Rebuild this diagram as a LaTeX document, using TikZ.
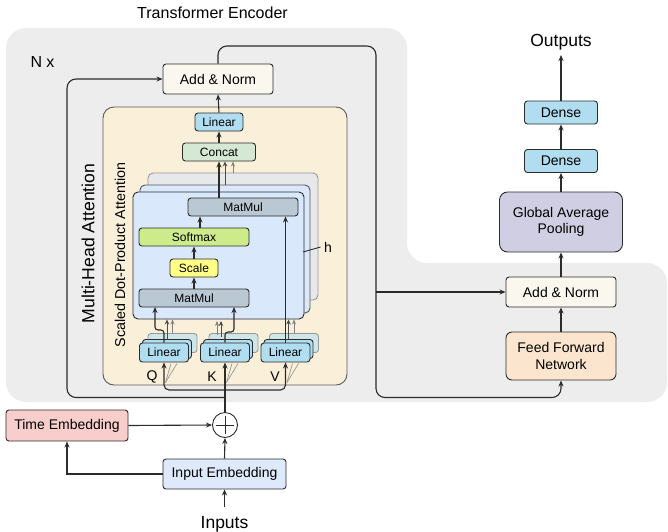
\documentclass[tikz,border=0pt]{standalone}
\usepackage{fontspec}
\setmainfont{Liberation Sans}
\usetikzlibrary{arrows.meta,calc,shapes.geometric}
\definecolor{linec}{HTML}{2B2B2B}
\definecolor{bggray}{HTML}{EDEDED}
\definecolor{mhafill}{HTML}{FAEFD9}
\definecolor{anfill}{HTML}{F9F7EE}
\definecolor{linfill}{HTML}{B1DDF0}
\definecolor{linback}{HTML}{CFE6E8}
\definecolor{ccfill}{HTML}{D5E8D4}
\definecolor{mmfill}{HTML}{BAC8D3}
\definecolor{smfill}{HTML}{CDEB8B}
\definecolor{scfill}{HTML}{FFFF88}
\definecolor{sdfill}{HTML}{DAE8FC}
\definecolor{sdback}{HTML}{E6E8EA}
\definecolor{gapfill}{HTML}{D0CEE2}
\definecolor{fffill}{HTML}{FCE5CF}
\definecolor{tefill}{HTML}{F8CECC}
\definecolor{iefill}{HTML}{DEEAFB}
\tikzset{
 bx/.style={draw=linec, line width=0.9pt, rounded corners=3pt, inner sep=0pt, align=center},
 big/.style={bx, font=\fontsize{14}{16.5}\selectfont},
 sml/.style={bx, font=\fontsize{12}{14}\selectfont},
 arr/.style={line width=1.1pt, draw=linec, -{Stealth[length=6pt,width=5pt]}},
 ln/.style={line width=1.1pt, draw=linec},
 garr/.style={line width=1pt, draw=linec!85, -{Stealth[length=5pt,width=4.5pt]}},
 garr2/.style={line width=0.9pt, draw=gray, -{Stealth[length=5pt,width=4pt]}},
 gl/.style={line width=0.7pt, draw=gray!80},
}
\begin{document}
\begin{tikzpicture}[x=1pt,y=-1pt]
\useasboundingbox (0,0) rectangle (668,531);
% background
\fill[bggray, rounded corners=20pt] (6,28) -- (407,28) -- (407,263) -- (667,263) -- (667,402) -- (6,402) -- cycle;
\node[font=\fontsize{16}{18}\selectfont] (title) at (212.5,13) {Transformer Encoder};
\node[font=\fontsize{16}{18}\selectfont] (nx) at (42.5,62) {N x};
% top add & norm
\node[big, fill=anfill, minimum width=110pt, minimum height=30pt] (an1) at (218,79) {Add \& Norm};
% MHA box
\node[draw=gray!70!black, line width=0.9pt, fill=mhafill, rounded corners=11pt, minimum width=244pt, minimum height=278pt] (mha) at (225,246) {};
\node[rotate=90, font=\fontsize{17.6}{20}\selectfont] (mhal) at (88,243.5) {Multi-Head Attention};
\node[rotate=90, font=\fontsize{14.3}{16}\selectfont] (sdpal) at (120,255) {Scaled Dot-Product Attention};
\node[sml, fill=linfill, minimum width=48pt, minimum height=18pt] (lin) at (219,122) {Linear};
\node[sml, fill=ccfill, minimum width=73pt, minimum height=18pt] (cc) at (219,152) {Concat};
% SDPA stack
\node[draw=gray!80, line width=0.9pt, fill=sdback, rounded corners=5pt, minimum width=170pt, minimum height=127pt] (sb) at (233,236.5) {};
\node[draw=linec!80, line width=0.9pt, fill=sdfill, rounded corners=5pt, minimum width=170pt, minimum height=128pt] (sm2) at (225,249) {};
\node[draw=linec, line width=0.9pt, fill=sdfill, rounded corners=5pt, minimum width=171pt, minimum height=127pt] (sf) at (218.5,255.5) {};
\node[font=\fontsize{14}{16}\selectfont] (hl) at (328,247) {h};
\draw[line width=0.9pt, draw=linec] (303,252) -- (hl.west);
\node[sml, fill=mmfill, minimum width=110pt, minimum height=18pt] (mm2) at (243,207) {MatMul};
\node[sml, fill=smfill, minimum width=110pt, minimum height=18pt] (smx) at (194,237) {Softmax};
\node[sml, fill=scfill, minimum width=48pt, minimum height=18pt] (sc) at (194,268) {Scale};
\node[sml, fill=mmfill, minimum width=110pt, minimum height=18pt] (mm1) at (194,298) {MatMul};
% Linear stacks
\foreach \nm/\cx in {q/164, k/225, v/285.5}{
  \node[bx, draw=gray!80, fill=linback, minimum width=49pt, minimum height=19pt] (\nm lin3) at (\cx+8.5,343) {};
  \node[bx, fill=linfill, minimum width=49pt, minimum height=19pt] (\nm lin2) at (\cx+3,349) {};
  \node[sml, fill=linfill, minimum width=49pt, minimum height=19pt] (\nm lin) at (\cx,352.5) {Linear};
}
\node[font=\fontsize{14}{16}\selectfont] (ql) at (152,377) {Q};
\node[font=\fontsize{14}{16}\selectfont] (kl) at (212,377) {K};
\node[font=\fontsize{14}{16}\selectfont] (vl) at (275,377) {V};
% bottom nodes
\node[big, fill=tefill, minimum width=122pt, minimum height=31pt] (te) at (67,425.5) {Time Embedding};
\node[big, fill=iefill, minimum width=123pt, minimum height=30pt] (ie) at (224.5,474) {Input Embedding};
\node[draw=linec, line width=0.9pt, circle, minimum size=25pt, inner sep=0pt] (plus) at (225,425) {};
\draw[line width=0.9pt, draw=linec] ([yshift=-9pt]plus.center) -- ([yshift=9pt]plus.center);
\draw[line width=0.9pt, draw=linec] ([xshift=-9pt]plus.center) -- ([xshift=9pt]plus.center);
\node[font=\fontsize{17.5}{20}\selectfont, anchor=base] (inputs) at (224.5,528.5) {Inputs};
\coordinate (inp) at (224.5,507);
% right column
\node[font=\fontsize{17.5}{20}\selectfont, anchor=base] (outputs) at (561,46) {Outputs};
\coordinate (outp) at (561,55);
\node[big, fill=linfill, minimum width=73pt, minimum height=23pt] (d2) at (561,112.5) {Dense};
\node[big, fill=linfill, minimum width=73pt, minimum height=23pt] (d1) at (561,161) {Dense};
\node[big, fill=gapfill, rounded corners=8pt, minimum width=123pt, minimum height=60pt] (gap) at (561,222) {Global Average\\Pooling};
\node[big, fill=anfill, minimum width=110pt, minimum height=30pt] (an2) at (561,292) {Add \& Norm};
\node[big, fill=fffill, rounded corners=6pt, minimum width=110pt, minimum height=48pt] (ffn) at (561,356) {Feed Forward\\Network};
% connectors inside SDPA
\draw[arr] (mm1.north) -- (sc.south);
\draw[arr] (sc.north) -- (smx.south);
\draw[arr] ([xshift=6pt]smx.north) -- ([xshift=6pt]smx.north |- mm2.south);
\draw[arr] (cc.south |- mm2.north) -- (cc.south);
\draw[garr] (sm2.north) -- (sm2.north |- cc.south);
\draw[garr2] (sb.north) -- (sb.north |- cc.south);
\draw[arr] (cc.north) -- (lin.south);
\draw[arr] (lin.north) -- (an1.south);
% linear to SDPA
\draw[garr] (qlin2.north) -- (qlin2.north |- sf.south);
\draw[garr2] (qlin3.north) -- (qlin3.north |- sf.south);
\draw[arr, rounded corners=3pt] (qlin.north) |- (155,330) -- (155,307);
\draw[garr2] (217,335) -- (217,321);
\draw[garr] (221,337) -- (221,321);
\draw[arr, rounded corners=3pt] (klin.north) |- (234,332) -- (234,307);
\draw[garr] (vlin2.north) -- (vlin2.north |- sf.south);
\draw[garr2] (vlin3.north) -- (vlin3.north |- sf.south);
\draw[arr] (vlin.north) -- (vlin.north |- mm2.south);
% inputs to linears
\coordinate (kb) at (225,390);
\coordinate (j1) at (225,397.5);
\draw[arr] (plus.north) -- (klin.south);
\draw[arr, rounded corners=5pt] (kb) -| (qlin.south);
\draw[arr, rounded corners=5pt] (kb) -| (vlin.south);
\foreach \nm in {q,k,v}{
  \draw[gl] ([shift={(1.5,20)}]\nm lin.south) -- ([shift={(7,1)}]\nm lin.south);
  \draw[gl] ([shift={(1.5,20)}]\nm lin.south) -- ([shift={(13,1)}]\nm lin.south);
}
% residual left
\draw[arr, rounded corners=9pt] (j1) -- (67,397.5) -- (67,79) -- (an1.west);
% residual right
\draw[arr, rounded corners=9pt] (an1.north) -- (218,46) -- (376,46) -- (376,397.5) -- (561,397.5) -- (ffn.south);
\coordinate (j2) at (376,292);
\draw[arr] (j2) -- (an2.west);
\draw[arr] (ffn.north) -- (an2.south);
\draw[arr] (an2.north) -- (gap.south);
\draw[arr] (gap.north) -- (d1.south);
\draw[arr] (d1.north) -- (d2.south);
\draw[arr] (d2.north) -- (outp);
% bottom
\draw[arr] (te.east) -- (plus.west);
\draw[arr] (ie.north) -- (plus.south);
\draw[arr] (ie.west) -| (te.south);
\draw[arr] (inp) -- (ie.south);
\end{tikzpicture}
\end{document}
